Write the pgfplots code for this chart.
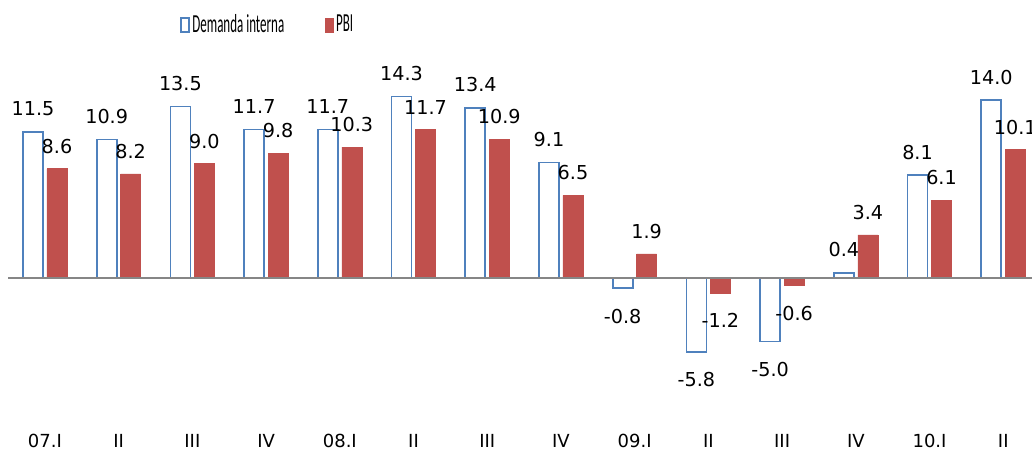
\documentclass[border=0pt]{standalone}
\usepackage{pgfplots}
\pgfplotsset{compat=1.18}
\usepackage{graphicx}
\usepackage{fontspec}
\setmainfont{DejaVu Sans}
\newfontfamily\legfont{Carlito}
\definecolor{dblue}{HTML}{4F81BD}
\definecolor{pred}{HTML}{C0504D}
\definecolor{zline}{HTML}{868686}

\begin{document}
\begin{tikzpicture}
\begin{axis}[
    scale only axis,
    width=516pt, height=214pt,
    xmin=-0.61, xmax=13.39,
    ymin=-11.81, ymax=21.89,
    clip=false,
    axis line style={draw=none},
    major tick length=0pt,
    ytick=\empty,
    xtick=data,
    xticklabels={07.I,II,III,IV,08.I,II,III,IV,09.I,II,III,IV,10.I,II},
    xticklabel style={font=\fontsize{9}{10}\selectfont, inner sep=3pt},
    ybar, bar width=10pt,
    /pgf/number format/.cd, fixed, fixed zerofill, precision=1, assume math mode=true,
    /pgfplots/.cd,
    nodes near coords,
    visualization depends on={rawy \as \rawy},
    every node near coord/.append style={font=\fontsize{9.6}{11}\selectfont, inner sep=0pt,
        color=black, yshift={\rawy<0 ? -10 : 7.5}},
    legend style={at={(0.1685,0.9416)}, anchor=west, draw=none, fill=none,
        legend columns=2, font=\legfont\fontsize{13}{15}\selectfont,
        /tikz/every even column/.append style={column sep=19pt},
        nodes={inner sep=1.4pt}},
    legend image code/.code={\draw[#1] (0pt,-3.5pt) rectangle (3.8pt,3.5pt);},
]
\addplot[draw=dblue, fill=white, line width=0.85pt, bar shift=-6pt] coordinates {
    (0,11.5) (1,10.9) (2,13.5) (3,11.7) (4,11.7) (5,14.3) (6,13.4)
    (7,9.1) (8,-0.8) (9,-5.8) (10,-5.0) (11,0.4) (12,8.1) (13,14.0)
};
\addlegendentry{\scalebox{0.5}[1]{Demanda interna}}
\addplot[draw=pred, fill=pred, line width=0.3pt, bar shift=6pt] coordinates {
    (0,8.6) (1,8.2) (2,9.0) (3,9.8) (4,10.3) (5,11.7) (6,10.9)
    (7,6.5) (8,1.9) (9,-1.2) (10,-0.6) (11,3.4) (12,6.1) (13,10.1)
};
\addlegendentry{\scalebox{0.5}[1]{PBI}}
\draw[zline, line width=1pt] (axis cs:-0.5,0) -- (axis cs:13.39,0);
\coordinate (bbtl) at (axis cs:-0.61,21.89);
\coordinate (bbbr) at (axis cs:13.39,-13.54);
\end{axis}
\pgfresetboundingbox
\useasboundingbox (bbtl) rectangle (bbbr);
\end{tikzpicture}
\end{document}
